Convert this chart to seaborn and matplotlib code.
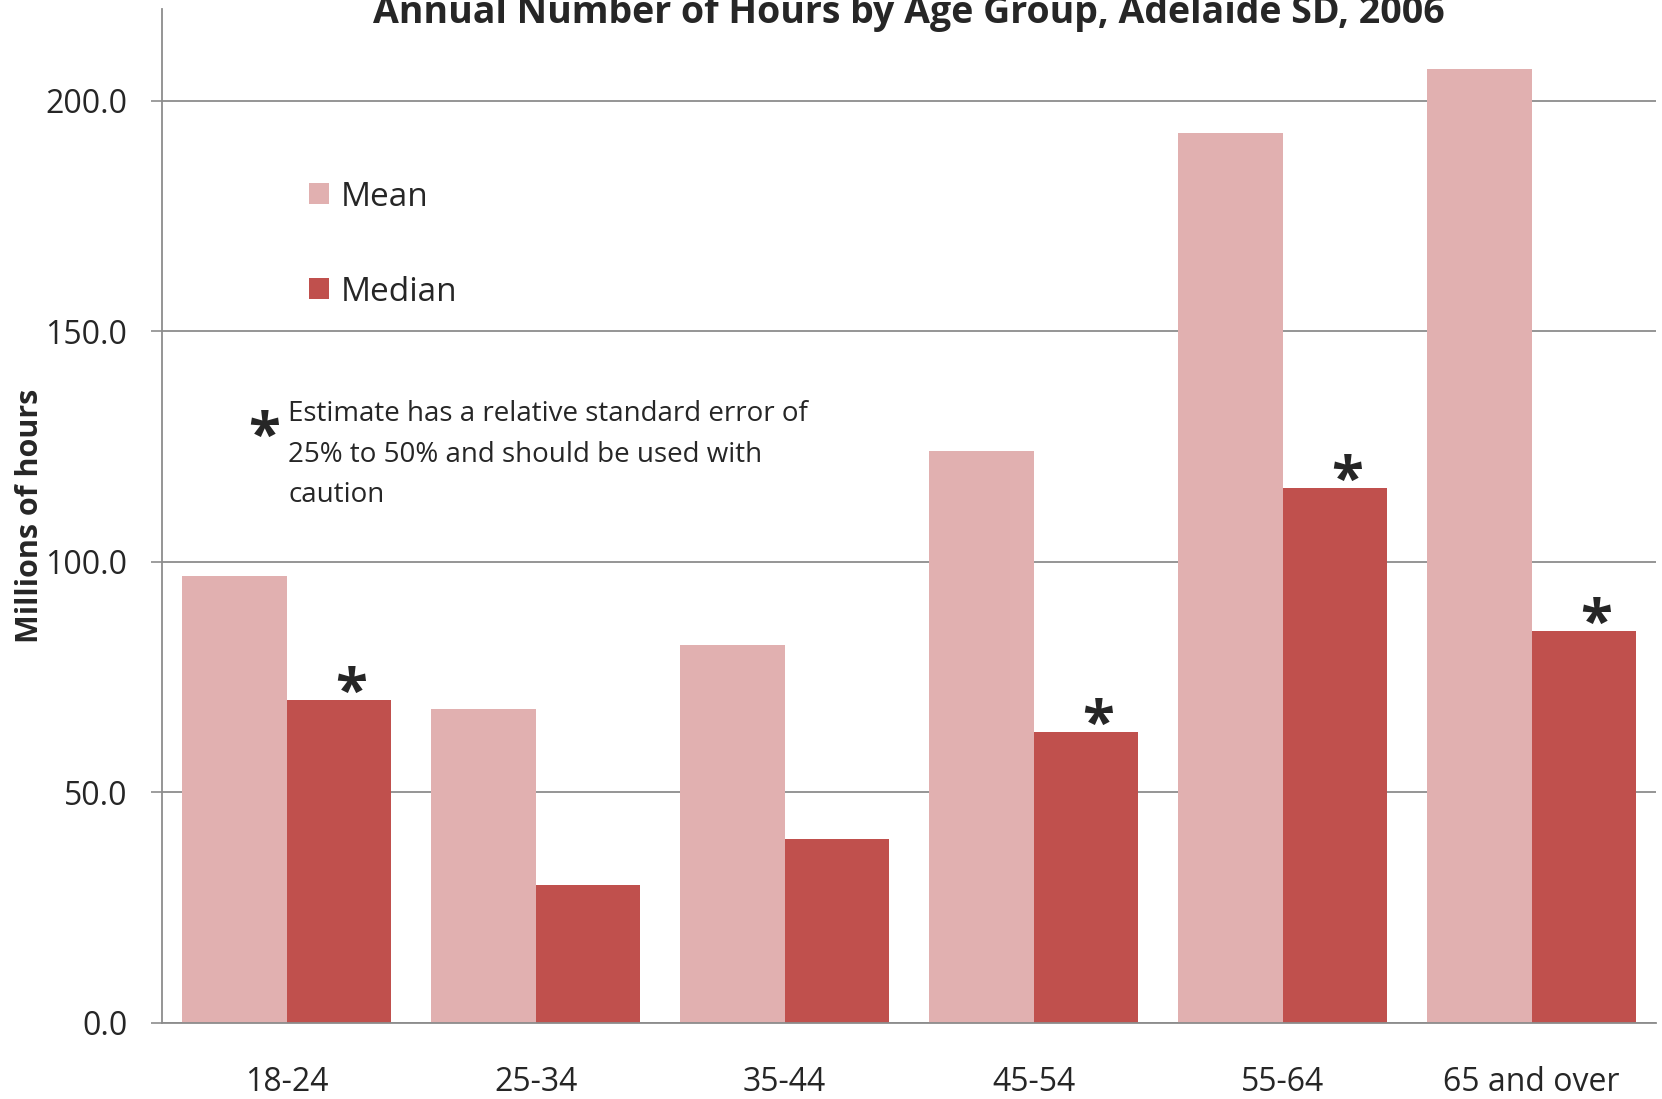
import pandas as pd
import matplotlib.pyplot as plt
import seaborn as sns

# dados
age_groups = ["18-24", "25-34", "35-44", "45-54", "55-64", "65 and over"]
mean_hours = [97, 68, 82, 124, 193, 207]
median_hours = [70, 30, 40, 63, 116, 85]
median_flag = [True, False, False, True, True, True]

df = pd.DataFrame({
    "age": age_groups * 2,
    "stat": ["Mean"] * len(age_groups) + ["Median"] * len(age_groups),
    "hours": mean_hours + median_hours,
})

sns.set_style("white")
plt.rcParams["font.family"] = ["Open Sans", "DejaVu Sans"]

fig = plt.figure(figsize=(16.62, 10.99), dpi=100)
ax = fig.add_axes([0.0975, 0.0692, 0.899, 0.923])

sns.barplot(data=df, x="age", y="hours", hue="stat", order=age_groups,
            palette={"Mean": "#E1B0B0", "Median": "#C0504D"},
            width=0.84, gap=0, saturation=1, linewidth=0, ax=ax)

ax.set_ylim(0, 220)
ax.set_xlim(-0.5, len(age_groups) - 0.5)
ax.set_yticks([0, 50, 100, 150, 200])
ax.set_yticklabels([f"{v:.1f}" for v in [0, 50, 100, 150, 200]])
ax.yaxis.grid(True, color="#8c8c8c", linewidth=1.3)
ax.set_axisbelow(True)

# marcas nas fronteiras das categorias
ax.set_xticks(range(len(age_groups)))
ax.set_xticklabels(age_groups)
ax.set_xticks([i - 0.5 for i in range(len(age_groups) + 1)], minor=True)
ax.tick_params(axis="x", which="major", length=0, pad=31, labelsize=23)
ax.tick_params(axis="x", which="minor", length=12, width=1.2, color="#8c8c8c", direction="out")
ax.tick_params(axis="y", length=8, width=1.2, color="#8c8c8c", direction="out",
               labelsize=23, pad=17, left=True)

for s in ["top", "right"]:
    ax.spines[s].set_visible(False)
for s in ["left", "bottom"]:
    ax.spines[s].set_color("#8c8c8c")
    ax.spines[s].set_linewidth(1.3)

ax.set_xlabel("")
ax.set_ylabel("Millions of hours", fontsize=22, fontweight="bold")
ax.yaxis.set_label_coords(-0.0785, 0.5)

# asteriscos sobre as medianas
median_bars = ax.containers[1]
for bar, flag in zip(median_bars, median_flag):
    if flag:
        ax.annotate("*", (bar.get_x() + bar.get_width() / 2, bar.get_height()),
                    xytext=(9, -17), textcoords="offset points",
                    ha="center", va="bottom", fontsize=42, fontweight="bold")

leg = ax.legend(loc="upper left", bbox_to_anchor=(0.078, 0.86), frameon=False,
                fontsize=24, handlelength=0.6, handleheight=0.6, handletextpad=0.35,
                labelspacing=1.86)

fig.text(0.1586, 0.601, "*", fontsize=42, fontweight="bold", va="center", ha="center")
fig.text(0.1735, 0.636, "Estimate has a relative standard error of\n25% to 50% and should be used with\ncaution",
         fontsize=20, va="top", ha="left", linespacing=1.6)

fig.text(0.547, 0.988, "Annual Number of Hours by Age Group, Adelaide SD, 2006",
         fontsize=27, fontweight="bold", ha="center", va="center")

plt.savefig("out.png", dpi=100)
